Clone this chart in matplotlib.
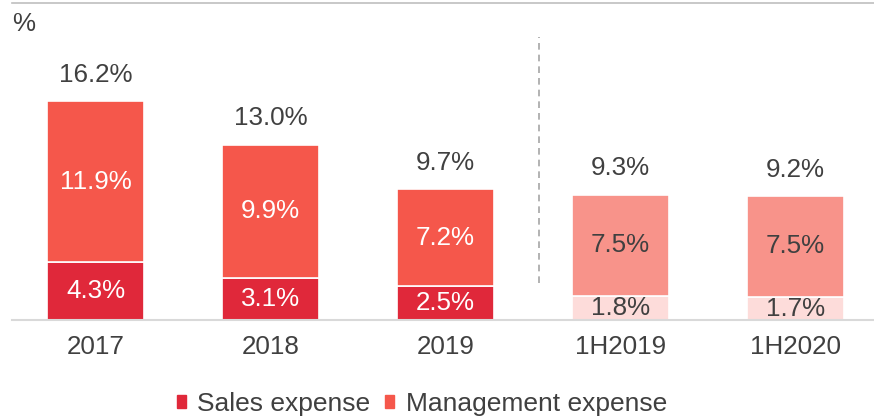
import matplotlib
matplotlib.use("Agg")
import matplotlib.pyplot as plt
from matplotlib.patches import Patch

categories = ["2017", "2018", "2019", "1H2019", "1H2020"]
sales = [4.3, 3.1, 2.5, 1.8, 1.7]
management = [11.9, 9.9, 7.2, 7.5, 7.5]
totals = [16.2, 13.0, 9.7, 9.3, 9.2]

sales_colors = ["#E0283A", "#E0283A", "#E0283A", "#FDDCDA", "#FDDCDA"]
mgmt_colors = ["#F5574B", "#F5574B", "#F5574B", "#F8938A", "#F8938A"]
sales_text = ["white", "white", "white", "#404040", "#404040"]
mgmt_text = ["white", "white", "white", "#404040", "#404040"]

plt.rcParams["font.family"] = ["Liberation Sans", "DejaVu Sans"]

fig = plt.figure(figsize=(8.74, 4.18), dpi=100)
ax = fig.add_axes([12 / 874, 98 / 418, 862 / 874, 317 / 418])

x = list(range(len(categories)))
w = 0.555
ax.bar(x, sales, width=w, color=sales_colors, edgecolor="white", linewidth=1.2)
ax.bar(x, management, width=w, bottom=sales, color=mgmt_colors,
       edgecolor="white", linewidth=1.2)

fs = 18.7
for i in x:
    ax.text(i, sales[i] / 2, f"{sales[i]:.1f}%", ha="center", va="center",
            color=sales_text[i], fontsize=fs)
    ax.text(i, sales[i] + management[i] / 2, f"{management[i]:.1f}%",
            ha="center", va="center", color=mgmt_text[i], fontsize=fs)
    ax.annotate(f"{totals[i]:.1f}%", (i, sales[i] + management[i]),
                xytext=(0, 19), textcoords="offset points", ha="center",
                va="center", color="#404040", fontsize=fs)

ax.plot([2.537, 2.537], [2.74, 21.0], color="#A6A6A6", linestyle=(0, (4, 3)),
        linewidth=1.2)

ax.set_xlim(-0.48, 4.451)
ax.set_ylim(0, 23.5)
ax.set_xticks(x)
ax.set_xticklabels(categories, fontsize=fs, color="#404040")
ax.tick_params(axis="x", length=0, pad=11)
ax.set_yticks([])
for s in ["left", "right"]:
    ax.spines[s].set_visible(False)
ax.spines["top"].set_color("#BFBFBF")
ax.spines["top"].set_linewidth(1.2)
ax.spines["bottom"].set_color("#D9D9D9")
ax.spines["bottom"].set_linewidth(1.5)

fig.text(12 / 874, 1 - 24 / 418, "%", fontsize=fs, color="#404040",
         ha="left", va="center")

handles = [Patch(color="#E0283A"), Patch(color="#F5574B")]
fig.legend(handles, ["Sales expense", "Management expense"],
           loc="center", bbox_to_anchor=(422 / 874, 1 - 404 / 418), ncol=2,
           frameon=False, fontsize=19, handlelength=0.34, handleheight=0.34,
           handletextpad=0.42, columnspacing=0.57, labelcolor="#404040",
           borderpad=0.1)

fig.savefig("out.png", dpi=100)
